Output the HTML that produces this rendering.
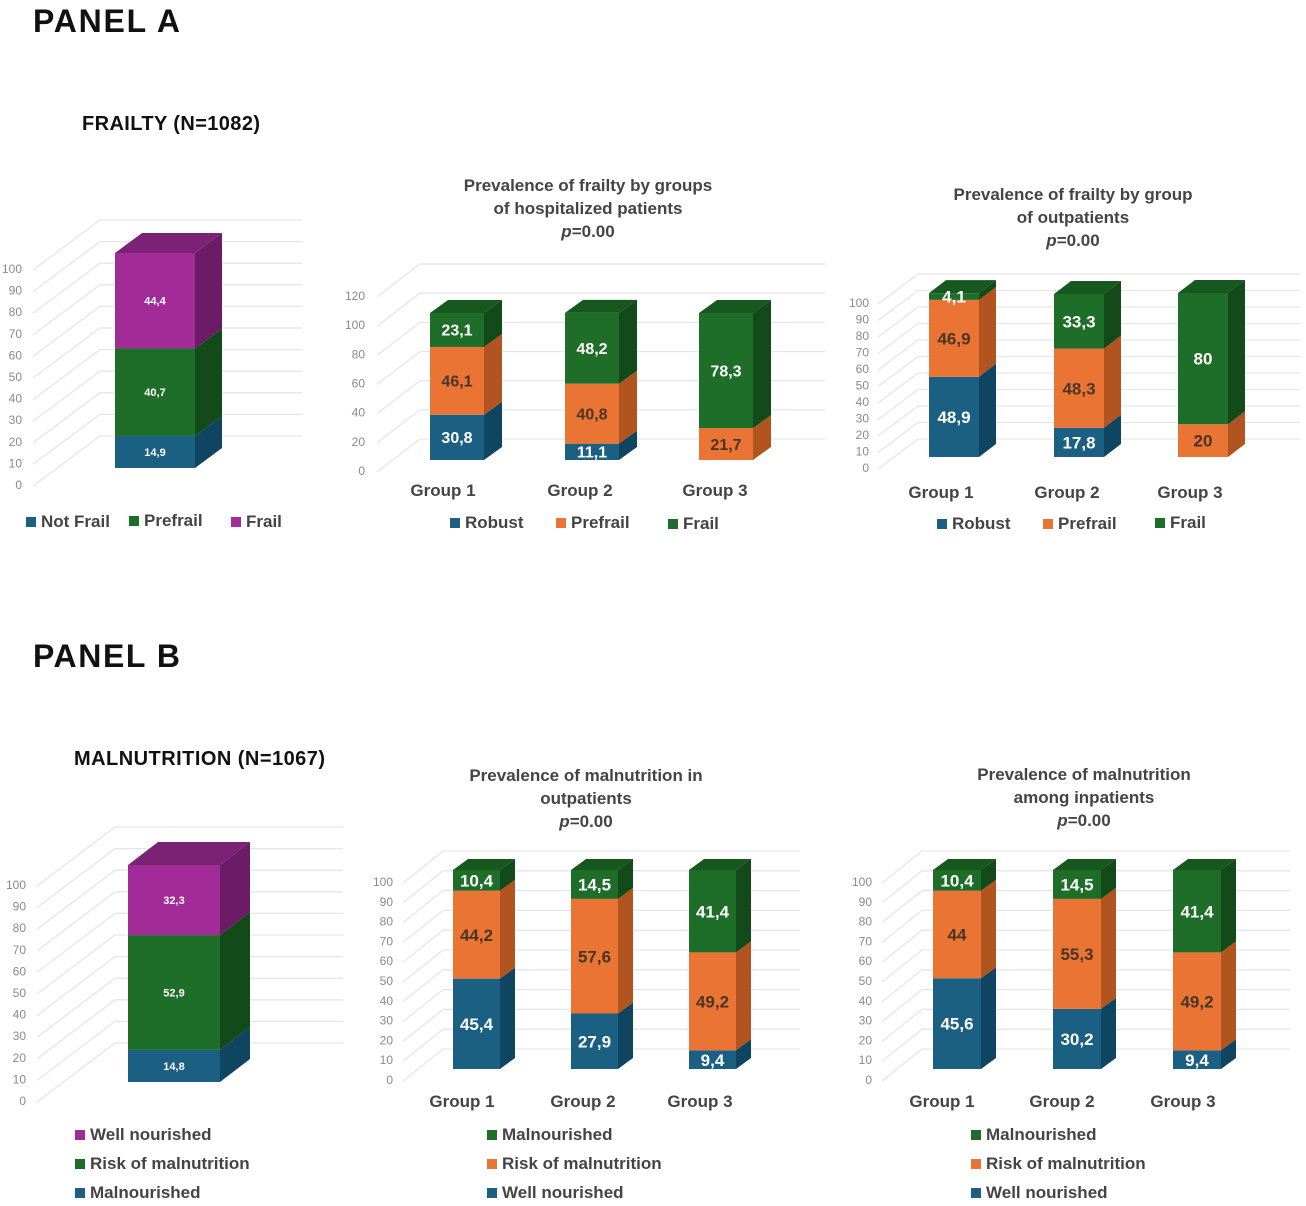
<!DOCTYPE html>
<html><head><meta charset="utf-8"><style>
body{margin:0;background:#fff;}
svg{display:block;font-family:"Liberation Sans",Arial,sans-serif;}
</style></head><body>
<svg id="fig" width="1306" height="1206" viewBox="0 0 1306 1206">
<text x="33" y="32" font-size="32" font-weight="bold" fill="#111" textLength="147">PANEL A</text>
<text x="82" y="130" font-size="20" font-weight="bold" fill="#111" textLength="178">FRAILTY (N=1082)</text>
<text x="33" y="667" font-size="32" font-weight="bold" fill="#111" textLength="147">PANEL B</text>
<text x="74" y="765" font-size="20" font-weight="bold" fill="#111" textLength="251">MALNUTRITION (N=1067)</text>
<g font-size="17" font-weight="bold" fill="#444" text-anchor="middle">
<text x="588" y="191">Prevalence of frailty by groups</text>
<text x="588" y="214">of hospitalized patients</text>
<text x="588" y="237"><tspan font-style="italic">p</tspan>=0.00</text></g>
<g font-size="17" font-weight="bold" fill="#444" text-anchor="middle">
<text x="1073" y="200">Prevalence of frailty by group</text>
<text x="1073" y="223">of outpatients</text>
<text x="1073" y="246"><tspan font-style="italic">p</tspan>=0.00</text></g>
<g font-size="17" font-weight="bold" fill="#444" text-anchor="middle">
<text x="586" y="781">Prevalence of malnutrition in</text>
<text x="586" y="804">outpatients</text>
<text x="586" y="827"><tspan font-style="italic">p</tspan>=0.00</text></g>
<g font-size="17" font-weight="bold" fill="#444" text-anchor="middle">
<text x="1084" y="780">Prevalence of malnutrition</text>
<text x="1084" y="803">among inpatients</text>
<text x="1084" y="826"><tspan font-style="italic">p</tspan>=0.00</text></g>
</svg>
<script>
// ---- data ----
const ticks100 = [0,10,20,30,40,50,60,70,80,90,100];
const ticks120 = [0,20,40,60,80,100,120];
const groupLabels = ['Group 1','Group 2','Group 3'];
const a1NotFrail = [14.9];
const a1Prefrail = [40.7];
const a1Frail = [44.4];
const a2Robust = [30.8, 11.1, 0];
const a2Prefrail = [46.1, 40.8, 21.7];
const a2Frail = [23.1, 48.2, 78.3];
const a3Robust = [48.9, 17.8, 0];
const a3Prefrail = [46.9, 48.3, 20];
const a3Frail = [4.1, 33.3, 80];
const b1Malnourished = [14.8];
const b1Risk = [52.9];
const b1Well = [32.3];
const b2Well = [45.4, 27.9, 9.4];
const b2Risk = [44.2, 57.6, 49.2];
const b2Mal = [10.4, 14.5, 41.4];
const b3Well = [45.6, 30.2, 9.4];
const b3Risk = [44, 55.3, 49.2];
const b3Mal = [10.4, 14.5, 41.4];

const NS = 'http://www.w3.org/2000/svg';
const svg = document.getElementById('fig');
const C = {
  blue:{f:'#1b5f83',s:'#0f4561',t:'#154f6e',tx:'#fff'},
  orange:{f:'#ea7433',s:'#b2541f',t:'#c9602a',tx:'#4a3426'},
  green:{f:'#1e6e2a',s:'#124a1a',t:'#17581f',tx:'#fff'},
  purple:{f:'#a12b97',s:'#6c1c66',t:'#7c2276',tx:'#fff'}
};
function el(tag, attrs, parent){
  const e = document.createElementNS(NS, tag);
  for (const k in attrs) e.setAttribute(k, attrs[k]);
  (parent || svg).appendChild(e);
  return e;
}
function fmt(v){ return String(v).replace('.', ','); }

function chart(name, cfg, ticks, series){
  const g = el('g', {});
  
  
  const yG = v => cfg.lab0 - v * cfg.gs;
  const yB = v => cfg.base - v * cfg.bs;
  ticks.forEach(t => {
    const y = yG(t);
    const gl = el('polyline', {points:`${cfg.dx0},${y} ${cfg.dx0+cfg.gdx},${y+cfg.gdy} ${cfg.gend},${y+cfg.gdy}`, fill:'none', stroke:'#e6e6e6', 'stroke-width':1.3}, g);
    
    
    const tl = el('text', {x:cfg.labx, y:y+3, 'text-anchor':'end', 'font-size':12, fill:'#8a8a8a'}, g);
    
    
    tl.textContent = t;
  });
  const n = series[0].values.length;
  for (let i = 0; i < n; i++){
    const x = cfg.xs[i], w = cfg.w;
    let cum = 0;
    const segs = [];
    series.forEach(s => {
      const v = s.values[i];
      if (v <= 0) return;
      const y0 = yB(cum), y1 = yB(cum + v);
      segs.push({s, v, y0, y1});
      cum += v;
    });
    segs.forEach(sg => {
      const c = C[sg.s.color];
      const fr = el('rect', {x:x, y:sg.y1, width:w, height:sg.y0-sg.y1, fill:c.f}, g);
      
      
      const sd = el('polygon', {points:`${x+w},${sg.y0} ${x+w},${sg.y1} ${x+w+cfg.ddx},${sg.y1+cfg.ddy} ${x+w+cfg.ddx},${sg.y0+cfg.ddy}`, fill:c.s}, g);
      
      
    });
    const top = segs[segs.length-1];
    const tc = C[top.s.color];
    const tp = el('polygon', {points:`${x},${top.y1} ${x+w},${top.y1} ${x+w+cfg.ddx},${top.y1+cfg.ddy} ${x+cfg.ddx},${top.y1+cfg.ddy}`, fill:tc.t}, g);
    
    
    segs.forEach(sg => {
      const c = C[sg.s.color];
      const t = el('text', {x:x+w/2, y:(sg.y0+sg.y1)/2 + cfg.fs*0.36, 'text-anchor':'middle', 'font-size':cfg.fs, 'font-weight':'bold', fill:c.tx}, g);
      
      
      t.textContent = fmt(sg.v);
    });
    if (cfg.gx){
      const gt = el('text', {x:cfg.gx[i], y:cfg.gy, 'text-anchor':'middle', 'font-size':17, 'font-weight':'bold', fill:'#444'}, g);
      
      
      gt.textContent = groupLabels[i];
    }
  }
}
function legend(items){
  items.forEach(it => {
    const g = el('g', {});
    
    
    el('rect', {x:it[0], y:it[1]-10, width:10, height:10, fill:C[it[3]].f}, g);
    const t = el('text', {x:it[0]+15, y:it[1], 'font-size':17, 'font-weight':'bold', fill:'#444'}, g);
    t.textContent = it[2];
  });
}

chart('chart-a1-frailty-overall', {lab0:486, gs:2.16, labx:22, dx0:33, gdx:67, gdy:-50, gend:302, base:468, bs:2.15, xs:[115], w:80, ddx:27, ddy:-20, fs:11},
  ticks100, [{values:a1NotFrail,color:'blue'},{values:a1Prefrail,color:'green'},{values:a1Frail,color:'purple'}]);
chart('chart-a2-hospitalized', {lab0:472, gs:1.458, labx:365, dx0:377, gdx:43, gdy:-33, gend:825, base:460, bs:1.47, xs:[430,565,699], w:54, ddx:18, ddy:-13, fs:16, gx:[443,580,715], gy:496},
  ticks120, [{values:a2Robust,color:'blue'},{values:a2Prefrail,color:'orange'},{values:a2Frail,color:'green'}]);
chart('chart-a3-outpatients', {lab0:469, gs:1.65, labx:869, dx0:878, gdx:40, gdy:-30, gend:1300, base:457, bs:1.64, xs:[929,1054,1178], w:50, ddx:17, ddy:-13, fs:17, gx:[941,1067,1190], gy:498},
  ticks100, [{values:a3Robust,color:'blue'},{values:a3Prefrail,color:'orange'},{values:a3Frail,color:'green'}]);
chart('chart-b1-malnutrition-overall', {lab0:1102, gs:2.16, labx:26, dx0:37, gdx:78, gdy:-59, gend:343, base:1082, bs:2.17, xs:[128], w:92, ddx:30, ddy:-23, fs:11},
  ticks100, [{values:b1Malnourished,color:'blue'},{values:b1Risk,color:'green'},{values:b1Well,color:'purple'}]);
chart('chart-b2-outpatients', {lab0:1081, gs:1.98, labx:393, dx0:403, gdx:40, gdy:-32, gend:800, base:1069, bs:1.99, xs:[453,571,689], w:47, ddx:15, ddy:-11, fs:17, gx:[462,583,700], gy:1107},
  ticks100, [{values:b2Well,color:'blue'},{values:b2Risk,color:'orange'},{values:b2Mal,color:'green'}]);
chart('chart-b3-inpatients', {lab0:1081, gs:1.98, labx:872, dx0:882, gdx:40, gdy:-32, gend:1290, base:1069, bs:1.99, xs:[933,1053,1173], w:48, ddx:15, ddy:-11, fs:17, gx:[942,1062,1183], gy:1107},
  ticks100, [{values:b3Well,color:'blue'},{values:b3Risk,color:'orange'},{values:b3Mal,color:'green'}]);

legend([[26,527,'Not Frail','blue'],[129,526,'Prefrail','green'],[231,527,'Frail','purple']]);
legend([[450,528,'Robust','blue'],[556,528,'Prefrail','orange'],[668,529,'Frail','green']]);
legend([[937,529,'Robust','blue'],[1043,529,'Prefrail','orange'],[1155,528,'Frail','green']]);
legend([[75,1140,'Well nourished','purple'],[75,1169,'Risk of malnutrition','green'],[75,1198,'Malnourished','blue']]);
legend([[487,1140,'Malnourished','green'],[487,1169,'Risk of malnutrition','orange'],[487,1198,'Well nourished','blue']]);
legend([[971,1140,'Malnourished','green'],[971,1169,'Risk of malnutrition','orange'],[971,1198,'Well nourished','blue']]);
</script>
</body></html>
